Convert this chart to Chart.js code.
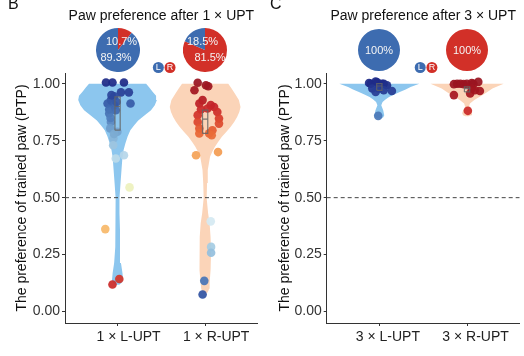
<!DOCTYPE html>
<html><head><meta charset="utf-8">
<script src="https://cdn.jsdelivr.net/npm/chart.js@4.4.0/dist/chart.umd.min.js"></script>
<style>
html,body{margin:0;padding:0;background:#fff;}
#wrap{position:relative;width:524px;height:356px;overflow:hidden;background:#fff;}
canvas{position:absolute;top:0;}
</style></head><body>
<div id="wrap">
<canvas id="cB" width="262" height="356" style="left:0px"></canvas>
<canvas id="cC" width="262" height="356" style="left:262px"></canvas>
<canvas id="pBL" width="44" height="44"></canvas>
<canvas id="pBR" width="44" height="44"></canvas>
<canvas id="pCL" width="42" height="42"></canvas>
<canvas id="pCR" width="42" height="42"></canvas>
</div>
<script>
// ---------------- DATA ----------------
const yTicks = [0, 0.25, 0.5, 0.75, 1.0];
const yMin = -0.05, yMax = 1.047;
const chanceLevel = 0.5;
const catsB = ['1 × L-UPT', '1 × R-UPT'];
const catsC = ['3 × L-UPT', '3 × R-UPT'];
const titleB = 'Paw preference after 1 × UPT';
const titleC = 'Paw preference after 3 × UPT';
const yTitle = 'The preference of trained paw (PTP)';

// pie shares: [R-preferring %, L-preferring %]
const pieB_L = [10.7, 89.3];
const pieB_R = [81.5, 18.5];
const pieC_L = [0, 100];
const pieC_R = [100, 0];

// violin density (y levels, half-widths in category units)
const violinB_L_y = [0.118, 0.128, 0.138, 0.169, 0.213, 0.283, 0.357, 0.432, 0.498, 0.564, 0.621, 0.678, 0.71, 0.739, 0.768, 0.796, 0.818, 0.839, 0.862, 0.884, 0.906, 0.928, 0.947, 0.965, 0.985, 1.0];
const violinB_L_w = [0.02, 0.05, 0.064, 0.056, 0.039, 0.028, 0.028, 0.022, 0.022, 0.034, 0.045, 0.056, 0.07, 0.09, 0.115, 0.146, 0.19, 0.236, 0.31, 0.382, 0.425, 0.449, 0.44, 0.40, 0.36, 0.326];
const violinB_R_y = [0.08, 0.09, 0.10, 0.125, 0.182, 0.257, 0.327, 0.388, 0.432, 0.498, 0.564, 0.621, 0.679, 0.70, 0.723, 0.745, 0.767, 0.789, 0.811, 0.833, 0.854, 0.876, 0.898, 0.928, 0.958, 0.98, 1.0];
const violinB_R_w = [0.02, 0.036, 0.045, 0.051, 0.062, 0.067, 0.062, 0.051, 0.034, 0.017, 0.022, 0.03, 0.056, 0.08, 0.112, 0.15, 0.191, 0.243, 0.292, 0.333, 0.365, 0.39, 0.404, 0.385, 0.337, 0.30, 0.264];
const violinC_L_y = [0.847, 0.853, 0.862, 0.884, 0.906, 0.92, 0.931, 0.942, 0.953, 0.964, 0.975, 0.986, 1.0];
const violinC_L_w = [0.02, 0.045, 0.056, 0.044, 0.022, 0.037, 0.07, 0.111, 0.17, 0.233, 0.30, 0.356, 0.456];
const violinC_R_y = [0.857, 0.862, 0.870, 0.884, 0.898, 0.913, 0.928, 0.939, 0.95, 0.965, 0.979, 1.0];
const violinC_R_w = [0.02, 0.045, 0.056, 0.044, 0.022, 0.033, 0.083, 0.13, 0.178, 0.235, 0.289, 0.417];

// box plots: [Q1, median, Q3]
const boxB_L = [0.796, 0.90, 0.942];
const boxB_R = [0.782, 0.845, 0.884];
const boxC_L = [0.971, 0.99, 1.0];
const boxC_R = [0.964, 0.978, 0.986];

// individual mice (x = jittered category position, y = PTP)
const ptsB_L_x = [0.868, 0.942, 1.073, 1.039, 1.129, 0.961, 0.924, 0.886, 1.148, 0.961, 0.905, 0.980, 0.905, 0.924, 0.916, 0.998, 0.953, 0.980, 1.073, 1.137, 0.860, 0.942, 1.020, 0.930, 0.990, 0.920, 0.960, 0.950];
const ptsB_L_y = [1.005, 1.005, 1.005, 0.962, 0.962, 0.945, 0.928, 0.913, 0.913, 0.906, 0.887, 0.884, 0.869, 0.832, 0.804, 0.789, 0.760, 0.672, 0.686, 0.545, 0.362, 0.119, 0.143, 0.950, 0.920, 0.850, 0.780, 0.730];
const ptsB_R_x = [1.915, 2.009, 2.035, 1.878, 1.971, 1.934, 2.064, 2.102, 2.027, 1.952, 2.139, 1.915, 2.158, 1.915, 2.158, 1.934, 2.083, 2.046, 1.934, 2.075, 1.896, 2.147, 2.064, 2.068, 2.068, 1.990, 1.971];
const ptsB_R_y = [1.004, 0.993, 0.989, 0.971, 0.928, 0.913, 0.906, 0.898, 0.891, 0.887, 0.876, 0.862, 0.847, 0.832, 0.825, 0.804, 0.796, 0.782, 0.782, 0.774, 0.686, 0.700, 0.396, 0.284, 0.258, 0.135, 0.075];
const ptsC_L_x = [0.883, 0.958, 1.050, 0.902, 0.975, 1.031, 1.087, 0.920, 0.994, 1.050, 0.958, 1.143, 0.987];
const ptsC_L_y = [1.003, 1.010, 1.000, 1.000, 1.006, 1.000, 0.993, 0.979, 0.979, 0.971, 0.964, 0.968, 0.859];
const ptsC_R_x = [1.850, 1.886, 1.923, 1.961, 1.998, 2.054, 2.128, 2.072, 1.850, 2.054, 2.035, 2.090, 2.146, 2.009];
const ptsC_R_y = [0.998, 1.000, 1.000, 0.998, 1.000, 1.003, 1.008, 1.000, 0.950, 0.979, 0.957, 0.971, 0.968, 0.881];

// ---------------- STYLE ----------------
Chart.defaults.font.family = "'Liberation Sans', Arial, Helvetica, sans-serif";
Chart.defaults.animation = false;
const FONT = "'Liberation Sans', Arial, Helvetica, sans-serif";
const BLUE = 'rgb(61,108,176)', RED = 'rgb(210,48,40)';
const VIOLIN_L = 'rgb(140,198,238)', VIOLIN_R = 'rgb(251,212,184)';
const AXIS = '#333';

// diverging colour scale keyed on left-paw index (1 = fully left, 0 = fully right)
const COLOR_STOPS = [
  [0.00,'#9a1420'],[0.05,'#a8171f'],[0.10,'#c4232a'],[0.15,'#d6392b'],[0.20,'#e45a30'],
  [0.25,'#ee7c3e'],[0.30,'#f39c52'],[0.35,'#f6b465'],[0.45,'#fbdc95'],[0.55,'#ecf2bf'],
  [0.60,'#d6eaf2'],[0.65,'#c4dfed'],[0.70,'#b0d3e7'],[0.75,'#90bcdc'],[0.80,'#6f9fcc'],
  [0.85,'#4f7dbb'],[0.90,'#3b63ac'],[0.95,'#2c469b'],[1.00,'#1e2b88']];
function hex(h){return [parseInt(h.slice(1,3),16),parseInt(h.slice(3,5),16),parseInt(h.slice(5,7),16)];}
function leftColor(v){
  v = Math.max(0, Math.min(1, v));
  for (let i=1;i<COLOR_STOPS.length;i++){
    if (v <= COLOR_STOPS[i][0]){
      const [a,ca]=COLOR_STOPS[i-1],[b,cb]=COLOR_STOPS[i];
      const t=(v-a)/(b-a), A=hex(ca), B=hex(cb);
      const c=A.map((x,k)=>Math.round(x+(B[k]-x)*t));
      return `rgba(${c[0]},${c[1]},${c[2]},0.93)`;
    }
  }
  return COLOR_STOPS[COLOR_STOPS.length-1][1];
}

function violinPoly(cx, ys, ws){
  const pts=[];
  for(let i=0;i<ys.length;i++) pts.push({x:cx+ws[i], y:ys[i]});
  for(let i=ys.length-1;i>=0;i--) pts.push({x:cx-ws[i], y:ys[i]});
  pts.push({x:pts[0].x, y:pts[0].y});
  return pts;
}
function boxPoly(cx, b){
  const hw=0.03;
  return [
    {x:cx-hw,y:b[0]},{x:cx+hw,y:b[0]},{x:cx+hw,y:b[2]},{x:cx-hw,y:b[2]},{x:cx-hw,y:b[0]},{x:cx,y:null},
    {x:cx-hw,y:b[1]},{x:cx+hw,y:b[1]}
  ];
}

function overlayPlugin(letter, title){
  return {
    id:'overlay',
    afterDraw(chart){
      const {ctx, chartArea:ca, scales:{x}} = chart;
      ctx.save();
      ctx.fillStyle='#111';
      ctx.font=`16px ${FONT}`;
      ctx.textAlign='left'; ctx.textBaseline='alphabetic';
      ctx.fillText(letter, 8, 9);
      ctx.font=`14px ${FONT}`;
      ctx.textAlign='center';
      ctx.fillText(title, (ca.left+ca.right)/2, 20);
      // L / R legend
      const mid = x.getPixelForValue(1.5);
      [[mid-3, BLUE, 'L'], [mid+8.7, RED, 'R']].forEach(([px,col,t])=>{
        ctx.beginPath(); ctx.arc(px, 67.5, 5.5, 0, Math.PI*2);
        ctx.fillStyle=col; ctx.fill();
        ctx.fillStyle='#fff'; ctx.font=`9px ${FONT}`;
        ctx.textAlign='center'; ctx.textBaseline='middle';
        ctx.fillText(t, px, 68);
      });
      ctx.restore();
    }
  };
}

function makePanel(id, cats, title, letter, violins, boxes, groups, axisW, titlePad, labelOffset, padRight){
  const datasets=[];
  boxes.forEach(b=>datasets.push({type:'line', data:boxPoly(b.cx,b.v), borderColor:'rgba(100,100,100,0.85)', borderWidth:1.2,
    pointRadius:0, fill:false, spanGaps:false, tension:0, order:0}));
  groups.forEach(g=>{
    const data=g.xs.map((xv,i)=>({x:xv, y:g.ys[i]}));
    const cols=g.ys.map(v=>leftColor(g.side==='L'? v : 1-v));
    datasets.push({type:'scatter', data, backgroundColor:cols, borderWidth:0, pointRadius:4.3, pointHoverRadius:4.3, order:1});
  });
  datasets.push({type:'line', data:[{x:0.4,y:chanceLevel},{x:2.6,y:chanceLevel}], borderColor:'#444', borderWidth:1,
    borderDash:[4,3], pointRadius:0, fill:false, order:2});
  violins.forEach(v=>datasets.push({type:'line', data:violinPoly(v.cx,v.ys,v.ws), backgroundColor:v.color,
    borderColor:'rgba(0,0,0,0)', borderWidth:0.5, pointRadius:0, fill:'shape', tension:0, order:3}));

  return new Chart(document.getElementById(id), {
    type:'scatter',
    data:{datasets},
    options:{
      responsive:false, animation:false, events:[],
      layout:{padding:{top:73, right:padRight, bottom:0, left:0}},
      plugins:{legend:{display:false}, tooltip:{enabled:false}},
      scales:{
        x:{type:'linear', min:0.4, max:2.6,
          afterBuildTicks:s=>{s.ticks=[{value:1},{value:2}];},
          afterFit:s=>{s.height=33;},
          ticks:{callback:(v,i)=>cats[i], color:'#222', font:{size:14}, padding:3, labelOffset:labelOffset, maxRotation:0, autoSkip:false},
          grid:{display:true, drawOnChartArea:false, drawTicks:true, tickLength:3, color:AXIS},
          border:{display:true, color:AXIS, width:1}},
        y:{type:'linear', min:yMin, max:yMax,
          afterBuildTicks:s=>{s.ticks=yTicks.map(v=>({value:v}));},
          afterFit:s=>{s.width=axisW;},
          ticks:{callback:v=>v.toFixed(2), color:'#333', font:{size:14}, padding:2},
          grid:{display:true, drawOnChartArea:false, drawTicks:true, tickLength:3, color:AXIS},
          border:{display:true, color:AXIS, width:1},
          title:{display:true, text:yTitle, color:'#111', font:{size:14}, padding:{top:titlePad, bottom:0}}}
      }
    },
    plugins:[overlayPlugin(letter, title)]
  });
}

function makePie(id, values, labels, chart, cat, canvasLeft, size){
  const el=document.getElementById(id);
  const cx = canvasLeft + chart.scales.x.getPixelForValue(cat);
  el.style.left = (cx - size/2) + 'px';
  el.style.top = (50.3 - size/2) + 'px';
  new Chart(el, {
    type:'pie',
    data:{datasets:[{data:values, backgroundColor:[RED, BLUE], borderWidth:0}]},
    options:{responsive:false, animation:false, events:[], layout:{padding:0},
      plugins:{legend:{display:false}, tooltip:{enabled:false}}},
    plugins:[{id:'pielab', afterDraw(c){
      const ctx=c.ctx; ctx.save();
      ctx.fillStyle='#f4f4f4'; ctx.font=`11px ${FONT}`; ctx.textAlign='center'; ctx.textBaseline='middle';
      values.forEach((v,i)=>{ if(v>0){ const o=labels[i]; ctx.fillText(v+'%', size/2+o[0], size/2+o[1]); }});
      ctx.restore();
    }}]
  });
}

const chartB = makePanel('cB', catsB, titleB, 'B',
  [{cx:1, ys:violinB_L_y, ws:violinB_L_w, color:VIOLIN_L},{cx:2, ys:violinB_R_y, ws:violinB_R_w, color:VIOLIN_R}],
  [{cx:1, v:boxB_L},{cx:2, v:boxB_R}],
  [{xs:ptsB_L_x, ys:ptsB_L_y, side:'L'},{xs:ptsB_R_x, ys:ptsB_R_y, side:'R'}],
  65, 14, 11, 1);
const chartC = makePanel('cC', catsC, titleC, 'C',
  [{cx:1, ys:violinC_L_y, ws:violinC_L_w, color:VIOLIN_L},{cx:2, ys:violinC_R_y, ws:violinC_R_w, color:VIOLIN_R}],
  [{cx:1, v:boxC_L},{cx:2, v:boxC_R}],
  [{xs:ptsC_L_x, ys:ptsC_L_y, side:'L'},{xs:ptsC_R_x, ys:ptsC_R_y, side:'R'}],
  64.7, 14.5, 8.5, 0);

makePie('pBL', pieB_L, [[3.5,-8.5],[-2,8]], chartB, 1, 0, 44);
makePie('pBR', pieB_R, [[5,8],[-2.5,-8.5]], chartB, 2, 0, 44);
makePie('pCL', pieC_L, [[0,0.5],[0,0.5]], chartC, 1, 262, 42);
makePie('pCR', pieC_R, [[0,0.5],[0,0.5]], chartC, 2, 262, 42);
</script>
</body></html>
